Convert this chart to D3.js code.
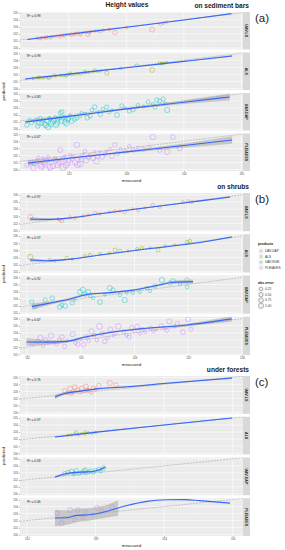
<!DOCTYPE html>
<html>
<head>
<meta charset="utf-8">
<script src="https://cdn.jsdelivr.net/npm/d3@7/dist/d3.min.js"></script>
<style>
  body { margin: 0; background: #fff; }
  text { font-family: "Liberation Sans", Arial, sans-serif; }
</style>
</head>
<body>
<div id="my_dataviz"></div>
<script>
// facet names, colours and legend entries
const facets = ["UAV-LS", "ALS", "UAV-DAP", "PLEIADES"];
const facetColors = ["#F8766D", "#7CAE00", "#00BFC4", "#C77CFF"];
const productLabels = ["UAV-DAP", "ALS", "UAV-RGB", "PLEIADES"];
const errorLabels = [0.25, 0.50, 0.75, 1.00];

// tick values
const a_xticks = [102, 103, 104, 105];
const b_xticks = [102, 103, 104, 105, 106];
const c_xticks = [102, 103, 104, 105];
const a_yticks = [100, 101, 102, 103, 104, 105];
const b_yticks = [101, 102, 103, 104, 105, 106];
const c_yticks = [100, 101, 102, 103, 104, 105];

// R² per facet
const a_r2 = ["0.98", "0.98", "0.83", "0.67"];
const b_r2 = ["0.97", "0.97", "0.92", "0.67"];
const c_r2 = ["0.76", "0.97", "0.58", "0.46"];

// points: [measured, predicted, abs.error]
const a_uavls = [[101.45,101.40,0.05],[101.52,101.45,0.07],[101.58,101.50,0.08],[101.63,101.60,0.03],[101.7,101.62,0.08],[101.75,101.70,0.05],[101.8,101.72,0.08],[101.85,101.80,0.05],[101.9,101.83,0.07],[101.95,101.92,0.03],[102.0,101.93,0.07],[102.05,102.0,0.05],[102.1,102.05,0.05],[102.15,102.12,0.03],[102.2,102.1,0.1],[102.25,102.2,0.05],[102.3,102.26,0.04],[102.38,102.3,0.08],[102.45,102.4,0.05],[102.5,102.45,0.05],[101.6,101.45,0.15],[101.85,101.65,0.2],[102.05,101.85,0.2],[102.2,101.95,0.25],[102.6,102.55,0.05],[102.7,102.62,0.08],[102.33,101.9,0.45],[102.8,102.2,0.6],[103.45,102.6,0.85],[103.6,103.4,0.2],[103.65,103.55,0.1],[103.7,103.7,0.05],[101.5,101.35,0.15],[101.68,101.5,0.18],[101.92,101.75,0.17],[102.12,101.95,0.17],[102.35,102.2,0.15],[102.55,102.35,0.2],[103.0,102.9,0.1]];
const a_als = [[101.38,101.45,0.07],[101.45,101.5,0.05],[101.5,101.52,0.03],[101.55,101.5,0.05],[101.6,101.6,0.03],[101.65,101.62,0.04],[101.7,101.68,0.03],[101.78,101.75,0.04],[101.85,101.82,0.03],[101.9,101.85,0.05],[101.95,101.92,0.04],[102.0,101.98,0.03],[102.05,102.0,0.05],[102.1,102.05,0.05],[102.15,102.1,0.05],[102.2,102.12,0.08],[102.25,102.2,0.05],[102.3,102.25,0.05],[102.35,102.3,0.05],[102.42,102.35,0.07],[102.5,102.45,0.05],[102.55,102.5,0.06],[101.65,101.5,0.15],[101.95,101.8,0.15],[102.66,102.2,0.45],[103.18,103.3,0.12],[103.45,102.63,0.8],[103.58,103.62,0.05],[103.62,103.6,0.05],[103.67,103.62,0.05],[103.7,103.7,0.03],[103.62,103.5,0.1],[101.48,101.62,0.14],[101.75,101.88,0.13],[102.02,102.15,0.13],[102.28,102.4,0.12],[102.45,102.58,0.13],[102.9,102.85,0.05]];
const a_uavdap = [[101.27,100.58,0.6],[101.32,101.29,0.2],[101.41,101.15,0.25],[101.46,100.44,0.7],[101.5,101.57,0.2],[101.53,100.86,0.65],[101.58,100.72,0.8],[101.62,101.15,0.5],[101.64,100.3,1.2],[101.67,101.43,0.3],[101.71,101.0,0.7],[101.76,101.71,0.1],[101.78,100.58,1.1],[101.81,101.29,0.5],[101.85,102.28,0.4],[101.88,102.42,0.55],[101.9,101.57,0.35],[101.93,101.0,0.9],[101.98,101.29,0.7],[102.02,101.99,0.05],[102.05,101.15,0.9],[102.14,101.57,0.55],[102.19,101.85,0.35],[102.28,102.14,0.15],[102.37,101.85,0.5],[102.45,103.12,0.65],[102.51,102.42,0.1],[102.59,102.84,0.25],[102.66,103.12,0.45],[102.75,102.7,0.05],[102.84,101.99,0.85],[102.98,102.98,0.05],[103.12,102.7,0.4],[103.2,103.4,0.2],[103.38,103.83,0.45],[103.46,103.55,0.1],[103.53,104.11,0.55],[103.58,103.97,0.4],[103.64,104.25,0.6],[103.71,102.7,1.0],[103.67,103.69,0.05],[101.35,100.9,0.45],[101.44,101.4,0.05],[101.48,100.8,0.7],[101.55,101.3,0.25],[101.6,100.55,1.05],[101.66,101.6,0.05],[101.69,100.7,1.0],[101.74,101.25,0.5],[101.8,100.9,0.9],[101.83,101.6,0.25],[101.87,101.15,0.7],[101.92,101.75,0.2],[101.96,100.8,1.15],[102.0,101.5,0.5],[102.1,101.4,0.7],[102.22,102.3,0.1],[102.32,101.6,0.7],[102.4,102.7,0.3],[102.55,102.05,0.5],[102.7,102.4,0.3],[102.92,103.3,0.4],[103.05,102.55,0.5],[103.3,103.2,0.1],[103.5,103.1,0.4]];
const a_pleiades = [[101.27,100.65,0.6],[101.35,101.07,0.3],[101.38,100.23,1.1],[101.45,101.36,0.1],[101.5,100.65,0.85],[101.55,101.64,0.1],[101.58,100.93,0.65],[101.62,101.36,0.25],[101.67,100.3,1.3],[101.7,101.07,0.6],[101.76,101.64,0.1],[101.8,100.65,1.1],[101.85,102.77,0.9],[101.88,101.2,0.65],[101.93,101.93,0.02],[101.98,100.9,1.0],[102.02,102.1,0.1],[102.06,101.5,0.55],[102.11,101.0,1.1],[102.14,103.48,1.3],[102.2,101.7,0.5],[102.25,102.2,0.05],[102.3,101.3,1.0],[102.37,102.0,0.35],[102.42,101.6,0.8],[102.45,102.5,0.05],[102.54,102.49,0.05],[102.58,101.8,0.8],[102.63,102.2,0.4],[102.72,102.9,0.2],[102.8,103.48,0.7],[102.85,102.3,0.55],[102.98,102.6,0.4],[103.12,102.77,0.35],[103.2,103.1,0.1],[103.46,104.6,1.15],[103.58,102.77,0.8],[103.71,102.49,1.2],[103.81,104.6,0.8],[103.93,103.0,0.9],[101.6,100.0,1.6],[101.9,100.3,1.6],[102.2,100.8,1.4],[101.4,100.8,0.6],[101.47,101.7,0.25],[101.52,100.4,1.1],[101.6,101.0,0.6],[101.64,101.8,0.15],[101.72,100.5,1.2],[101.78,101.3,0.5],[101.83,100.95,0.9],[101.9,101.6,0.3],[101.95,100.6,1.35],[102.0,101.25,0.75],[102.08,101.85,0.25],[102.15,100.7,1.45],[102.22,101.4,0.8],[102.28,102.6,0.3],[102.34,101.75,0.6],[102.48,101.2,1.3],[102.5,101.9,0.6],[102.66,102.65,0.02],[102.75,101.9,0.85],[102.9,102.95,0.05],[103.05,103.3,0.25],[103.3,102.9,0.4],[103.4,103.2,0.2]];

const b_uavls = [[102.06,102.89,0.85],[102.61,102.47,0.15],[102.58,102.61,0.05],[102.65,102.33,0.3],[103.04,103.03,0.05],[103.14,103.17,0.05],[103.27,103.45,0.2],[103.54,103.59,0.05],[103.64,103.73,0.1],[103.73,103.73,0.05],[103.97,104.01,0.05],[104.07,103.87,0.2],[104.2,104.15,0.05],[104.34,104.57,0.2],[104.47,104.29,0.15],[104.9,104.99,0.1],[105.0,105.13,0.1],[105.07,104.99,0.1],[102.8,102.89,0.1],[102.89,102.75,0.15],[103.36,103.31,0.05],[103.82,103.59,0.2]];
const b_als = [[102.06,103.07,1.0],[102.43,102.65,0.2],[102.52,102.51,0.05],[102.74,102.93,0.2],[102.84,102.79,0.05],[103.08,103.21,0.15],[103.17,103.35,0.15],[103.54,103.63,0.1],[103.64,104.05,0.4],[103.73,103.91,0.2],[104.05,104.19,0.15],[104.14,104.33,0.2],[104.29,104.33,0.05],[104.44,104.05,0.4],[104.57,104.61,0.05],[104.98,105.17,0.2],[105.03,105.31,0.25],[103.36,103.49,0.1],[103.88,103.91,0.05],[104.75,104.75,0.02]];
const b_uavdap = [[102.09,102.54,0.45],[102.15,101.84,0.3],[102.65,102.12,0.5],[102.61,101.84,0.8],[102.71,101.98,0.75],[102.84,102.4,0.45],[102.89,102.82,0.05],[102.99,103.94,0.95],[103.04,104.22,1.2],[103.08,103.66,0.6],[103.14,103.94,0.8],[103.17,103.38,0.2],[103.23,103.1,0.15],[103.36,102.54,0.8],[103.45,103.52,0.05],[103.54,104.5,0.95],[103.6,104.22,0.6],[103.73,103.52,0.2],[103.86,103.8,0.05],[103.97,103.8,0.15],[104.1,103.94,0.15],[104.23,104.5,0.25],[104.29,104.08,0.2],[104.38,104.78,0.4],[104.51,105.62,1.1],[104.66,105.2,0.55],[104.72,105.48,0.75],[104.85,105.06,0.2],[104.98,105.62,0.65],[104.98,104.64,0.35],[102.34,102.82,0.5],[102.47,103.1,0.65],[103.82,102.82,1.0]];
const b_pleiades = [[102.1,102.5,0.5],[102.25,103.3,1.0],[102.3,102.2,0.4],[102.45,103.6,1.2],[102.55,102.4,0.3],[102.6,103.0,0.4],[102.7,102.1,0.6],[102.75,102.9,0.15],[102.85,103.8,0.95],[102.9,102.6,0.3],[103.0,103.1,0.1],[103.05,102.35,0.7],[103.1,103.5,0.4],[103.2,104.2,1.0],[103.3,103.0,0.3],[103.4,103.9,0.5],[103.45,102.8,0.65],[103.55,104.5,0.95],[103.6,103.6,0.02],[103.7,104.9,1.2],[103.8,104.2,0.4],[103.9,103.4,0.5],[104.0,104.3,0.3],[104.05,104.85,0.8],[104.15,104.5,0.35],[104.2,104.1,0.1],[104.3,104.7,0.4],[104.35,104.2,0.15],[104.5,105.0,0.5],[104.6,104.3,0.3],[104.65,105.6,0.95],[104.75,104.9,0.15],[104.9,104.1,0.8],[105.0,105.9,0.9],[105.05,104.5,0.55],[102.4,102.7,0.3],[103.35,104.9,1.55],[102.2,102.8,0.6],[102.35,103.0,0.65],[102.5,102.6,0.1],[102.65,103.4,0.75],[102.95,102.4,0.55],[103.15,102.9,0.25],[103.25,103.7,0.45],[103.5,103.3,0.2],[103.65,104.0,0.35],[103.85,103.7,0.15],[103.95,104.7,0.75],[104.1,103.9,0.2],[104.4,104.4,0.02],[104.55,104.7,0.15],[104.8,105.3,0.5]];

const c_uavls = [[102.55,103.1,0.55],[102.6,102.8,0.2],[102.63,103.4,0.8],[102.67,102.95,0.3],[102.7,103.6,0.9],[102.74,103.2,0.45],[102.78,102.85,0.1],[102.8,103.45,0.65],[102.83,103.0,0.2],[102.86,103.7,0.85],[102.9,103.15,0.25],[102.94,102.8,0.15],[102.97,103.5,0.55],[103.0,103.25,0.25],[103.05,103.8,0.75],[103.21,104.19,0.95],[103.3,103.9,0.6],[102.65,102.6,0.05],[102.88,103.2,0.3]];
const c_als = [[102.6,102.55,0.05],[102.65,102.6,0.05],[102.7,102.75,0.05],[102.75,102.65,0.1],[102.8,102.8,0.05],[102.85,102.75,0.1],[102.9,102.9,0.05],[102.95,102.85,0.1],[102.72,102.95,0.2],[102.85,103.0,0.15],[103.0,102.95,0.05]];
const c_uavdap = [[102.55,102.9,0.4],[102.6,103.05,0.5],[102.65,103.2,0.6],[102.7,102.95,0.3],[102.72,103.3,0.6],[102.76,102.85,0.1],[102.8,103.05,0.25],[102.83,103.25,0.45],[102.86,102.9,0.05],[102.9,103.15,0.25],[102.93,103.3,0.4],[102.97,103.0,0.05],[103.0,103.35,0.35],[103.05,103.5,0.45],[103.08,103.2,0.1],[103.12,103.7,0.6],[102.85,103.4,0.55],[102.68,102.75,0.1]];
const c_pleiades = [[102.44,103.08,0.65],[102.51,101.65,0.85],[102.63,103.51,0.9],[102.74,103.51,0.75],[102.85,103.23,0.4],[103.02,103.8,0.8],[103.24,103.94,0.7],[102.82,102.37,0.45],[102.7,102.08,0.6],[102.95,102.9,0.05],[103.1,103.4,0.3]];

// smooth fits: [measured, fit, lower, upper]
const a_uavls_fit = [[101.28,101.22,101.15,101.29],[102,101.95,101.92,101.98],[103,102.95,102.92,102.98],[104,103.97,103.92,104.02],[104.83,104.86,104.74,104.98]];
const a_als_fit = [[101.24,101.36,101.3,101.42],[102,102.05,102.02,102.08],[103,102.95,102.92,102.98],[104,103.85,103.8,103.9],[104.84,104.6,104.5,104.7]];
const a_uavdap_fit = [[101.24,101.0,100.85,101.15],[102,101.8,101.7,101.9],[103,102.85,102.75,102.95],[104,103.8,103.55,104.05],[104.8,104.54,104.05,105.03]];
const a_pleiades_fit = [[101.29,100.93,100.55,101.31],[102,101.6,101.47,101.73],[103,102.5,102.35,102.65],[104,103.4,103.1,103.7],[104.84,104.18,103.65,104.71]];

const b_uavls_fit = [[102.06,102.62,102.35,102.89],[102.4,102.56,102.44,102.68],[102.75,102.72,102.65,102.79],[103.36,103.34,103.29,103.39],[104.29,104.25,104.2,104.3],[105.22,105.15,105.07,105.23],[105.78,105.69,105.55,105.83]];
const b_als_fit = [[102.06,102.65,102.38,102.92],[102.4,102.55,102.43,102.67],[102.75,102.72,102.65,102.79],[103.36,103.35,103.3,103.4],[104.29,104.25,104.2,104.3],[105.22,105.1,105.02,105.18],[105.81,105.87,105.72,106.02]];
const b_uavdap_fit = [[102.09,101.9,101.45,102.35],[102.4,102.35,102.1,102.6],[102.74,102.85,102.68,103.02],[103.12,103.6,103.45,103.75],[103.54,103.85,103.72,103.98],[103.97,104.2,104.07,104.33],[104.42,104.85,104.7,105.0],[104.72,105.3,105.1,105.5],[105.09,105.4,105.1,105.7]];
const b_pleiades_fit = [[101.99,102.72,102.2,103.24],[102.4,102.7,102.4,103.0],[102.74,102.8,102.62,102.98],[103.04,103.35,103.2,103.5],[103.54,104.05,103.92,104.18],[104.1,104.55,104.42,104.68],[104.98,105.1,104.92,105.28],[105.81,105.95,105.55,106.35]];

const c_uavls_fit = [[102.41,102.2,101.9,102.5],[102.55,102.7,102.5,102.9],[102.75,103.0,102.88,103.12],[103.02,103.35,103.25,103.45],[103.46,103.65,103.55,103.75],[104.04,104.15,104.05,104.25],[104.99,104.9,104.75,105.05]];
const c_als_fit = [[102.41,102.3,102.24,102.36],[103.02,103.0,102.96,103.04],[104.0,104.02,103.97,104.07],[104.99,105.01,104.94,105.08]];
const c_uavdap_fit = [[102.41,102.4,102.25,102.55],[102.58,102.9,102.78,103.02],[102.77,103.1,103.0,103.2],[102.96,103.2,103.1,103.3],[103.14,103.8,103.65,103.95]];
const c_pleiades_fit = [[102.41,102.37,101.2,103.5],[102.58,102.4,101.4,103.45],[102.73,102.75,101.8,103.7],[102.88,102.8,101.95,103.75],[103.21,103.45,102.5,104.4],[103.33,103.8,102.7,104.9],[103.46,104.15,null,null],[103.75,104.75,null,null],[104.04,104.97,null,null],[104.3,105.0,null,null],[104.52,104.85,null,null],[104.96,104.5,null,null]];

// page layout (positions only)
const W = 285, H = 550;
const plotLeft = 20, plotRight = 243, stripW = 7, gap = 3;

const panels = [
  {tag: "(a)", sub: "on sediment bars", top: 12, bottom: 171, xdom: [101.15, 105.03], ydom: [99.8, 105.1],
   xticks: a_xticks, yticks: a_yticks, r2: a_r2,
   pts: [a_uavls, a_als, a_uavdap, a_pleiades], fits: [a_uavls_fit, a_als_fit, a_uavdap_fit, a_pleiades_fit]},
  {tag: "(b)", sub: "on shrubs", top: 193, bottom: 355, xdom: [101.87, 106.02], ydom: [100.9, 106.25],
   xticks: b_xticks, yticks: b_yticks, r2: b_r2,
   pts: [b_uavls, b_als, b_uavdap, b_pleiades], fits: [b_uavls_fit, b_als_fit, b_uavdap_fit, b_pleiades_fit]},
  {tag: "(c)", sub: "under forests", top: 376, bottom: 536, xdom: [101.9, 105.15], ydom: [99.8, 105.19],
   xticks: c_xticks, yticks: c_yticks, r2: c_r2,
   pts: [c_uavls, c_als, c_uavdap, c_pleiades], fits: [c_uavls_fit, c_als_fit, c_uavdap_fit, c_pleiades_fit]}
];

const svg = d3.select("#my_dataviz")
  .append("svg")
  .attr("width", W)
  .attr("height", H);

const size = d3.scaleSqrt().domain([0, 1]).range([0.9, 2.6]);

function draw_panel(p, pi) {
  const x = d3.scaleLinear().domain(p.xdom).range([plotLeft, plotRight]);
  const fh = (p.bottom - p.top - 3 * gap) / 4;

  // titles
  if (pi === 0) {
    svg.append("text").attr("x", 127).attr("y", 7).attr("text-anchor", "middle")
      .style("font-size", "6.6px").style("font-weight", "bold").attr("fill", "#1a1a1a").text("Height values");
  }
  svg.append("text").attr("x", 249).attr("y", p.top - 4.5).attr("text-anchor", "end")
    .style("font-size", "6.6px").style("font-weight", "bold").attr("fill", "#1a1a1a").text(p.sub);
  svg.append("text").attr("x", 255).attr("y", p.top + 10).style("font-size", "11.5px").attr("fill", "#222").text(p.tag);

  facets.forEach(function (name, i) {
    const top = p.top + i * (fh + gap);
    const y = d3.scaleLinear().domain(p.ydom).range([top + fh, top]);
    const g = svg.append("g");
    const clipId = "clip" + pi + "_" + i;

    g.append("clipPath").attr("id", clipId).append("rect")
      .attr("x", plotLeft).attr("y", top).attr("width", plotRight - plotLeft).attr("height", fh);

    g.append("rect").attr("x", plotLeft).attr("y", top)
      .attr("width", plotRight - plotLeft).attr("height", fh).attr("fill", "#ebebeb");

    // grid
    const xminor = p.xticks.map(function (t) { return t - 0.5; }).concat([p.xticks[p.xticks.length - 1] + 0.5]);
    const yminor = p.yticks.map(function (t) { return t - 0.5; }).concat([p.yticks[p.yticks.length - 1] + 0.5]);
    const grid = g.append("g").attr("clip-path", "url(#" + clipId + ")");
    grid.selectAll(".xm").data(xminor).enter().append("line")
      .attr("x1", function (d) { return x(d); }).attr("x2", function (d) { return x(d); })
      .attr("y1", top).attr("y2", top + fh).attr("stroke", "#f5f5f5").attr("stroke-width", 0.3);
    grid.selectAll(".ym").data(yminor).enter().append("line")
      .attr("y1", function (d) { return y(d); }).attr("y2", function (d) { return y(d); })
      .attr("x1", plotLeft).attr("x2", plotRight).attr("stroke", "#f5f5f5").attr("stroke-width", 0.3);
    grid.selectAll(".xg").data(p.xticks).enter().append("line")
      .attr("x1", function (d) { return x(d); }).attr("x2", function (d) { return x(d); })
      .attr("y1", top).attr("y2", top + fh).attr("stroke", "#fff").attr("stroke-width", 0.6);
    grid.selectAll(".yg").data(p.yticks).enter().append("line")
      .attr("y1", function (d) { return y(d); }).attr("y2", function (d) { return y(d); })
      .attr("x1", plotLeft).attr("x2", plotRight).attr("stroke", "#fff").attr("stroke-width", 0.6);

    const body = g.append("g").attr("clip-path", "url(#" + clipId + ")");

    // 1:1 line
    body.append("line")
      .attr("x1", x(p.xdom[0])).attr("y1", y(p.xdom[0]))
      .attr("x2", x(p.xdom[1])).attr("y2", y(p.xdom[1]))
      .attr("stroke", "#a6a6a6").attr("stroke-width", 0.6).attr("stroke-dasharray", "2,1");

    // points
    body.selectAll("circle").data(p.pts[i]).enter().append("circle")
      .attr("cx", function (d) { return x(d[0]); })
      .attr("cy", function (d) { return y(d[1]); })
      .attr("r", function (d) { return size(d[2]); })
      .attr("fill", "none")
      .attr("stroke", facetColors[i])
      .attr("stroke-width", 0.6)
      .attr("opacity", 0.72);

    // confidence band
    body.append("path").datum(p.fits[i])
      .attr("d", d3.area()
        .defined(function (d) { return d[2] != null; })
        .x(function (d) { return x(d[0]); })
        .y0(function (d) { return y(d[2]); })
        .y1(function (d) { return y(d[3]); })
        .curve(d3.curveMonotoneX))
      .attr("fill", "#999").attr("opacity", 0.45);

    // smooth
    body.append("path").datum(p.fits[i])
      .attr("d", d3.line()
        .x(function (d) { return x(d[0]); })
        .y(function (d) { return y(d[1]); })
        .curve(d3.curveMonotoneX))
      .attr("fill", "none").attr("stroke", "#3366FF").attr("stroke-width", 1.1);

    // R²
    const rt = g.append("text").attr("x", 27).attr("y", top + 4.5)
      .style("font-size", "3.2px").attr("fill", "#222");
    rt.append("tspan").text("R");
    rt.append("tspan").attr("dy", -1).style("font-size", "2.3px").text("2");
    rt.append("tspan").attr("dy", 1).text(" = " + p.r2[i]);

    // strip
    g.append("rect").attr("x", plotRight).attr("y", top).attr("width", stripW).attr("height", fh).attr("fill", "#d9d9d9");
    g.append("text")
      .attr("transform", "translate(" + (plotRight + stripW / 2) + "," + (top + fh / 2) + ") rotate(90)")
      .attr("text-anchor", "middle").attr("dy", "0.35em")
      .style("font-size", "3.6px").style("font-weight", "bold").attr("fill", "#1a1a1a").text(name);

    // y axis
    const ya = g.append("g").attr("transform", "translate(" + plotLeft + ",0)")
      .call(d3.axisLeft(y).tickValues(p.yticks).tickSize(1.2).tickPadding(1).tickFormat(d3.format("d")));
    ya.select(".domain").remove();
    ya.selectAll("line").attr("stroke", "#333").attr("stroke-width", 0.4);
    ya.selectAll("text").style("font-size", "2.8px").attr("fill", "#4d4d4d").attr("font-family", null);
  });

  // x axis
  const xa = svg.append("g").attr("transform", "translate(0," + p.bottom + ")")
    .call(d3.axisBottom(x).tickValues(p.xticks).tickSize(1.2).tickPadding(1).tickFormat(d3.format("d")));
  xa.select(".domain").remove();
  xa.selectAll("line").attr("stroke", "#333").attr("stroke-width", 0.4);
  xa.selectAll("text").style("font-size", "2.8px").attr("fill", "#4d4d4d").attr("font-family", null);

  // axis labels
  svg.append("text").attr("x", (plotLeft + plotRight) / 2).attr("y", p.bottom + 11)
    .attr("text-anchor", "middle").style("font-size", "4.4px").attr("fill", "#1a1a1a").text("measured");
  svg.append("text")
    .attr("transform", "translate(5," + (p.top + p.bottom) / 2 + ") rotate(-90)")
    .attr("text-anchor", "middle").style("font-size", "4.4px").attr("fill", "#1a1a1a").text("predicted");
}

panels.forEach(draw_panel);

// legends (panel b)
const lg = svg.append("g");
lg.append("text").attr("x", 258).attr("y", 245).style("font-size", "3.6px").style("font-weight", "bold")
  .attr("fill", "#1a1a1a").text("products");
productLabels.forEach(function (d, i) {
  const cy = 251 + i * 5.6;
  lg.append("rect").attr("x", 258.5).attr("y", cy - 2.5).attr("width", 5).attr("height", 5).attr("fill", "#f2f2f2");
  lg.append("circle").attr("cx", 261).attr("cy", cy).attr("r", 1.1).attr("fill", "none")
    .attr("stroke", facetColors[i]).attr("stroke-width", 0.5).attr("opacity", 0.7);
  lg.append("text").attr("x", 265).attr("y", cy + 1.1).style("font-size", "3.2px").attr("fill", "#333").text(d);
});
lg.append("text").attr("x", 258).attr("y", 284).style("font-size", "3.6px").style("font-weight", "bold")
  .attr("fill", "#1a1a1a").text("abs.error");
errorLabels.forEach(function (d, i) {
  const cy = 289 + i * 5.6;
  lg.append("rect").attr("x", 258.5).attr("y", cy - 2.5).attr("width", 5).attr("height", 5).attr("fill", "#f2f2f2");
  lg.append("circle").attr("cx", 261).attr("cy", cy).attr("r", size(d)).attr("fill", "none")
    .attr("stroke", "#333").attr("stroke-width", 0.5).attr("opacity", 0.7);
  lg.append("text").attr("x", 265).attr("y", cy + 1.1).style("font-size", "3.2px").attr("fill", "#333").text(d3.format(".2f")(d));
});
</script>
</body>
</html>
